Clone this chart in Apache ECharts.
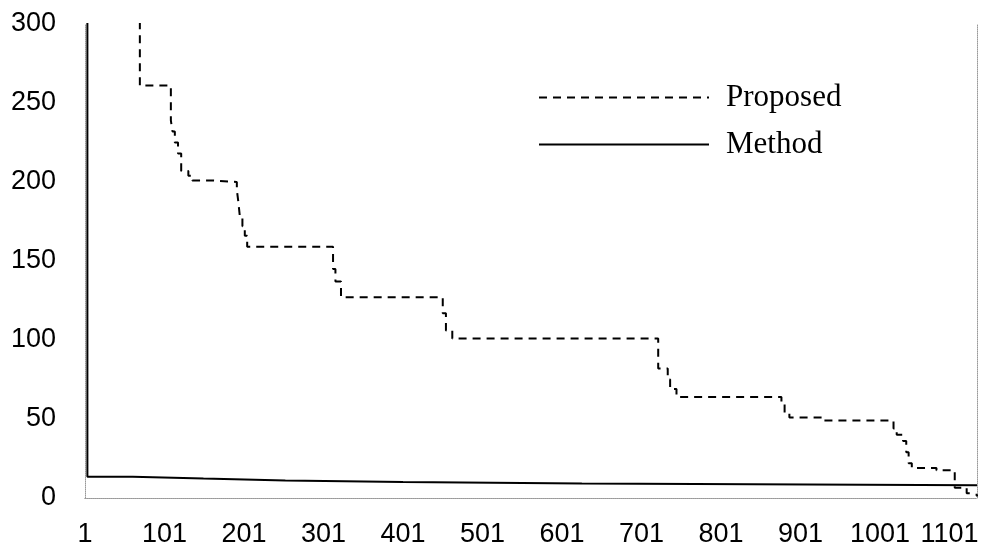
<!DOCTYPE html>
<html>
<head>
<meta charset="utf-8">
<script src="https://cdn.jsdelivr.net/npm/echarts@6/dist/echarts.min.js"></script>
<style>
html,body{margin:0;padding:0;background:#fff;}
#chart{width:981px;height:549px;}
</style>
</head>
<body>
<div id="chart"></div>
<script>
// Step breakpoints: [x, value] — value holds from x until the next breakpoint
const proposedSteps = [
  [1,400],[70,261],[109,239],[111,232],[114,225],[118,218],[122,207],[131,204],[136,201],
  [162,200],[192,195],[194,187],[196,177],[199,172],[202,166],[205,159],
  [313,145],[316,137],[323,127],[451,117],[455,106],[463,101],
  [722,82],[734,75],[737,69],[745,64],[877,60],[881,54],[887,51],[928,49],
  [1018,44],[1022,40],[1030,36],[1034,29],[1037,22],[1041,19],[1072,17.5],
  [1095,6.5],[1110,3],[1116,2],[1123,1]
];
const methodSteps = [
  [1,400],[4,13.5],[61,12.3],[150,11.1],[253,10.1],[401,9.2],[626,8.0],[1123,8.0]
];
const xTickLabels = [1,101,201,301,401,501,601,701,801,901,1001,1101];
const seriesNames = ['Proposed','Method'];

const labelFont = '"Liberation Sans",Arial,sans-serif';
const dotted = {color:'#999', width:1, type:'dotted'};

const chart = echarts.init(document.getElementById('chart'), null, {renderer:'canvas'});
chart.setOption({
  backgroundColor:'#fff',
  animation:false,
  grid:{left:85, right:4, top:24, bottom:51, outerBoundsMode:'none', containLabel:false},
  legend:{
    orient:'vertical', left:533, top:77, itemWidth:170, itemHeight:14, itemGap:16,
    data:seriesNames,
    itemStyle:{opacity:0},
    textStyle:{fontFamily:'"Liberation Serif","Times New Roman",serif', fontSize:31, color:'#000', lineHeight:30, padding:[0,0,0,12]}
  },
  xAxis:[{
    type:'value', min:1, max:1123, position:'bottom',
    axisLine:{show:true, lineStyle:dotted},
    axisTick:{show:false},
    splitLine:{show:false},
    axisLabel:{customValues:xTickLabels, margin:23, color:'#000', fontSize:27, fontFamily:labelFont,
      formatter:function(v){
        const last = xTickLabels[xTickLabels.length-1];
        return v === last ? '{last|' + v + '}' : String(v);
      },
      rich:{last:{fontSize:27, fontFamily:labelFont, color:'#000', padding:[0,20,0,0]}}
    }
  },{
    type:'value', min:1, max:1123, position:'top',
    axisLine:{show:true, lineStyle:dotted}, axisTick:{show:false}, axisLabel:{show:false}, splitLine:{show:false}
  }],
  yAxis:[{
    type:'value', min:0, max:300, interval:50,
    axisLine:{show:true, lineStyle:dotted},
    axisTick:{show:false},
    splitLine:{show:false},
    axisLabel:{margin:29, color:'#000', fontSize:27, fontFamily:labelFont}
  },{
    type:'value', min:0, max:300, interval:50, position:'right',
    axisLine:{show:true, lineStyle:dotted}, axisTick:{show:false}, axisLabel:{show:false}, splitLine:{show:false}
  }],
  series:[{
    name:seriesNames[0], type:'line', step:'end', data:proposedSteps, symbol:'none', clip:true,
    lineStyle:{color:'#000', width:2, type:[8,6]}, itemStyle:{color:'#000'}
  },{
    name:seriesNames[1], type:'line', step:'end', data:methodSteps, symbol:'none', clip:true,
    lineStyle:{color:'#000', width:2, type:'solid'}, itemStyle:{color:'#000'}
  }]
});
</script>
</body>
</html>
